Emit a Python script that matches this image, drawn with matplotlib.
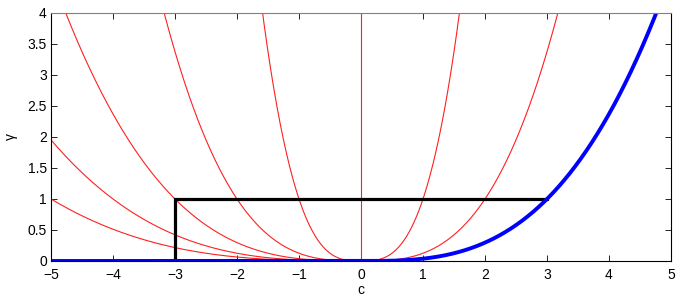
import numpy as np
import matplotlib.pyplot as plt

plt.rcParams['font.family'] = ['Liberation Sans', 'DejaVu Sans']

# red curves gamma = (|c|/a)^3, symmetric ones and left-only ones
a_full = [1, 2]
a_left = [3, 4, 5]
power = 3
# blue curve: zero for c<0, (c/3)^3 for c>0
a_blue = 3
# black step: (-3,0) -> (-3,1) -> (3,1)
black_x = [-3, -3, 3]
black_y = [0, 1, 1]

xticks = np.arange(-5, 6, 1)
yticks = np.arange(0, 4.01, 0.5)
ytick_labels = ['0', '0.5', '1', '1.5', '2', '2.5', '3', '3.5', '4']

fig = plt.figure(figsize=(6.81, 3.02), dpi=100)
ax = fig.add_axes([0.0749, 0.1358, 0.9104, 0.8212])

c = np.linspace(-5, 5, 2001)
cl = np.linspace(-5, 0, 1001)

for a in a_full:
    ax.plot(c, (np.abs(c) / a) ** power, color='#ff2020', lw=0.8)
for a in a_left:
    ax.plot(cl, (np.abs(cl) / a) ** power, color='#ff2020', lw=0.8)
ax.axvline(0, color='#ff2020', lw=0.8)

ax.plot(black_x, black_y, color='black', lw=2.3, solid_joinstyle='miter')
ax.plot(c, np.where(c > 0, (c / a_blue) ** power, 0.0), color='#0000ff', lw=2.8)

ax.set_xlim(-5, 5)
ax.set_ylim(0, 4)
ax.set_xticks(xticks)
ax.set_yticks(yticks)
ax.set_yticklabels(ytick_labels)
ax.tick_params(direction='in', top=True, right=True, labelsize=10, length=4, width=0.6)
ax.tick_params(axis='x', pad=5)
ax.tick_params(axis='y', pad=3)
ax.spines['top'].set_color('#808080')
for s in ['left', 'right', 'bottom']:
    ax.spines[s].set_color('black')
for s in ax.spines.values():
    s.set_linewidth(0.8)

ax.set_xlabel('c', fontsize=10, labelpad=1)
ax.set_ylabel('γ', fontsize=10, labelpad=7)

fig.savefig('out.png', dpi=100)
